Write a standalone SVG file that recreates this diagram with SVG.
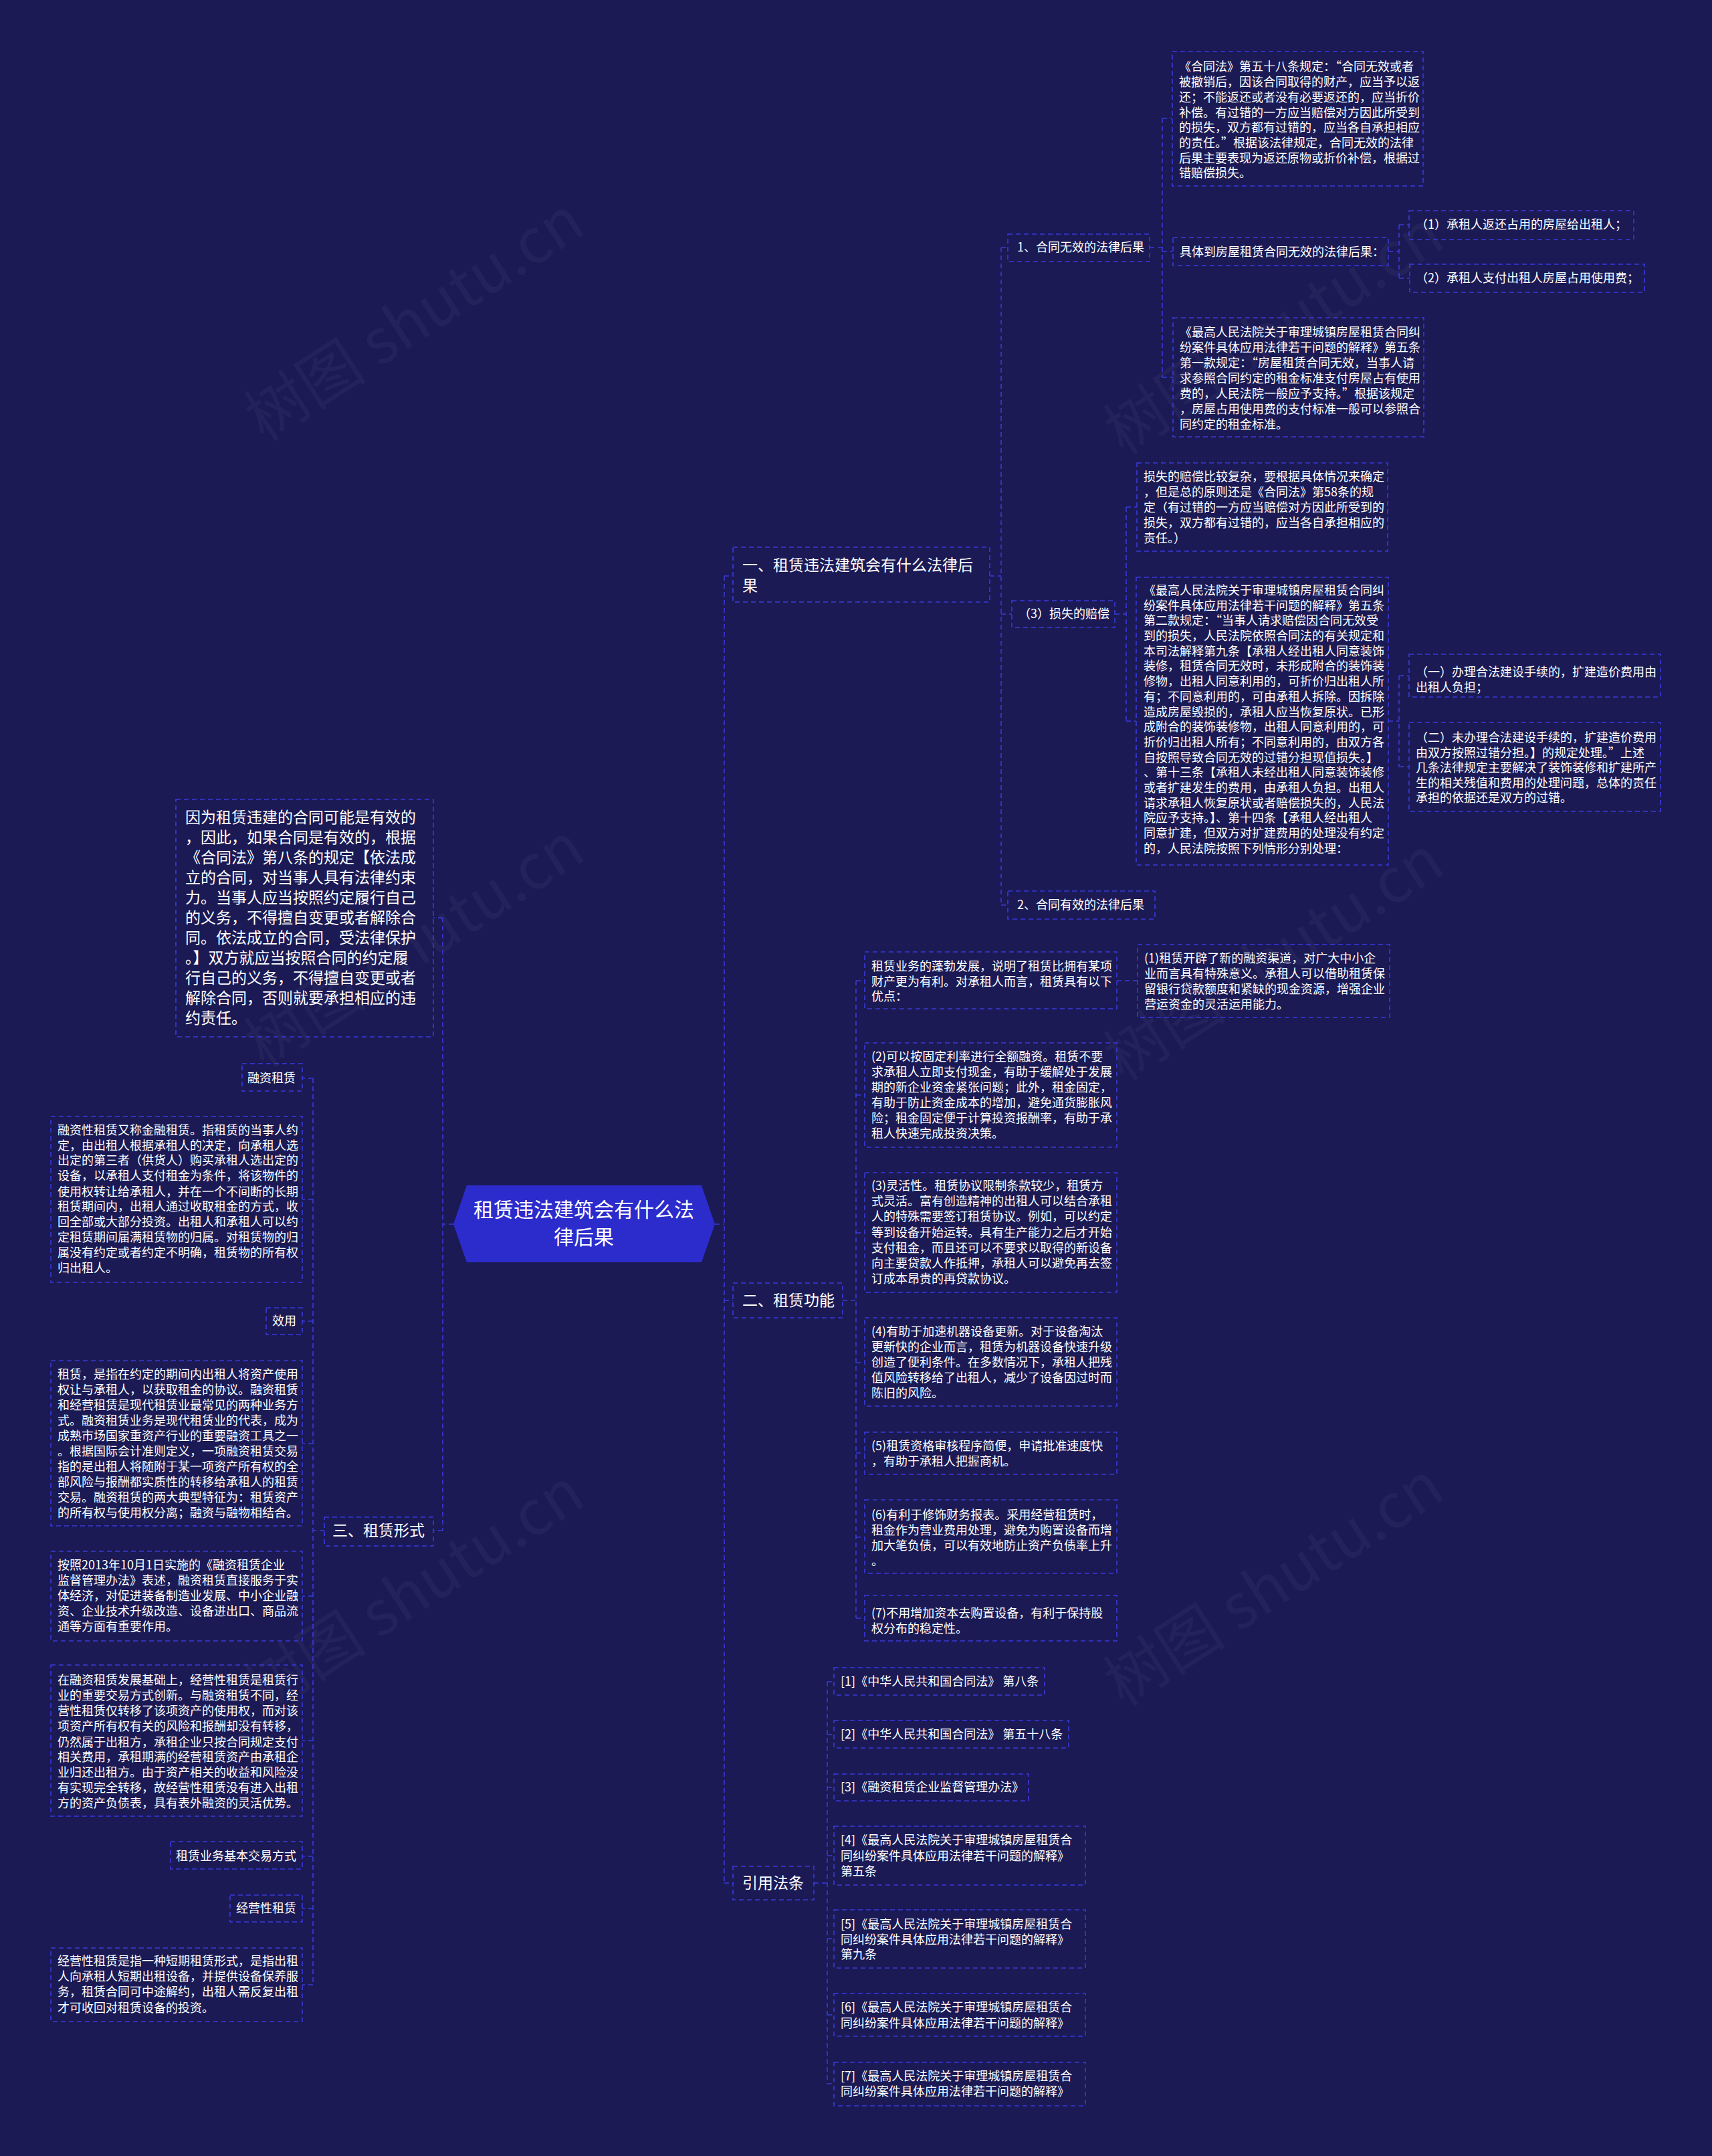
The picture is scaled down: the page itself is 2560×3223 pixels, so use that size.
<svg xmlns="http://www.w3.org/2000/svg" width="2560" height="3223" viewBox="0 0 2560 3223">
<style>
.bg{fill:#1b1a55}
.box{fill:none;stroke:#3a3ad8;stroke-width:1.6;stroke-dasharray:7 5}
.ln{fill:none;stroke:#3a3ad8;stroke-width:1.6;stroke-dasharray:7 5}
.t{font-family:"Noto Sans CJK SC","Noto Sans",sans-serif;font-size:18px;fill:#ffffff}
.t23{font-family:"Noto Sans CJK SC","Noto Sans",sans-serif;font-size:23px;fill:#ffffff}
.tc{font-family:"Noto Sans CJK SC","Noto Sans",sans-serif;font-size:30px;fill:#ffffff;text-anchor:middle}
.wm{font-family:"Noto Sans CJK SC","Noto Sans",sans-serif;font-size:92px;fill:#ffffff;fill-opacity:0.04}
.r{text-anchor:end}
</style>
<rect class="bg" x="0" y="0" width="2560" height="3223"/>
<g id="watermarks">
<text class="wm" x="637" y="504" text-anchor="middle" transform="rotate(-33 637 504)">树图 shutu.cn</text>
<text class="wm" x="1922" y="524" text-anchor="middle" transform="rotate(-33 1922 524)">树图 shutu.cn</text>
<text class="wm" x="637" y="1440" text-anchor="middle" transform="rotate(-33 637 1440)">树图 shutu.cn</text>
<text class="wm" x="1922" y="1460" text-anchor="middle" transform="rotate(-33 1922 1460)">树图 shutu.cn</text>
<text class="wm" x="637" y="2405" text-anchor="middle" transform="rotate(-33 637 2405)">树图 shutu.cn</text>
<text class="wm" x="1922" y="2395" text-anchor="middle" transform="rotate(-33 1922 2395)">树图 shutu.cn</text>
</g>
<g id="connectors">
<path class="ln" d="M1069 1830H1083M1083 861V2815M1083 861H1096M1083 1944H1096M1083 2815H1096"/>
<path class="ln" d="M678 1830H662M662 1372V2288M662 1372H648M662 2288H648"/>
<path class="ln" d="M1480 861H1497M1497 370V1353M1497 370H1507M1497 918H1513M1497 1353H1507"/>
<path class="ln" d="M1719 370H1738M1738 177V564M1738 177H1753M1738 376H1754M1738 564H1754"/>
<path class="ln" d="M2076 376H2092M2092 336V416M2092 336H2107M2092 416H2108"/>
<path class="ln" d="M1667 918H1684M1684 758V1078M1684 758H1700M1684 1078H1699"/>
<path class="ln" d="M2076 1078H2092M2092 1010V1146M2092 1010H2107M2092 1146H2107"/>
<path class="ln" d="M1260 1944H1280M1280 1466V2419M1280 1466H1293M1280 1637H1293M1280 1843H1293M1280 2037H1293M1280 2172H1293M1280 2298H1293M1280 2419H1293M1670 1466H1701"/>
<path class="ln" d="M1217 2815H1237M1237 2514V3115M1237 2514H1247M1237 2593H1247M1237 2672H1247M1237 2774H1247M1237 2898H1247M1237 3012H1247M1237 3115H1247"/>
<path class="ln" d="M485 2288H468M468 1612V2967M468 1612H452M468 1793H452M468 1975H452M468 2158H452M468 2386H452M468 2602H452M468 2775H452M468 2853H452M468 2967H452"/>
</g>
<g id="center">
<polygon points="698,1772 1049,1772 1069,1830 1049,1887 698,1887 678,1830" fill="#2c2ccc"/>
<text class="tc" x="873" y="1819">租赁违法建筑会有什么法</text>
<text class="tc" x="873" y="1860">律后果</text>
</g>
<g id="n1">
<rect class="box" x="1096" y="818" width="384" height="82"/>
<text class="t23" x="1110" y="853">一、租赁违法建筑会有什么法律后</text>
<text class="t23" x="1110" y="884">果</text>
</g>
<g id="n1-1">
<rect class="box" x="1507" y="350" width="212" height="41"/>
<text class="t" x="1521" y="376">1、合同无效的法律后果</text>
</g>
<g id="n1-1-a">
<rect class="box" x="1753" y="77" width="375" height="201"/>
<text class="t" x="1763" y="106">《合同法》第五十八条规定：“合同无效或者</text>
<text class="t" x="1763" y="129">被撤销后，因该合同取得的财产，应当予以返</text>
<text class="t" x="1763" y="152">还；不能返还或者没有必要返还的，应当折价</text>
<text class="t" x="1763" y="175">补偿。有过错的一方应当赔偿对方因此所受到</text>
<text class="t" x="1763" y="197">的损失，双方都有过错的，应当各自承担相应</text>
<text class="t" x="1763" y="220">的责任。”根据该法律规定，合同无效的法律</text>
<text class="t" x="1763" y="243">后果主要表现为返还原物或折价补偿，根据过</text>
<text class="t" x="1763" y="265">错赔偿损失。</text>
</g>
<g id="n1-1-b">
<rect class="box" x="1754" y="355" width="322" height="42"/>
<text class="t" x="1764" y="383">具体到房屋租赁合同无效的法律后果：</text>
</g>
<g id="n1-1-b-1">
<rect class="box" x="2107" y="315" width="336" height="43"/>
<text class="t" x="2117" y="342">（1）承租人返还占用的房屋给出租人；</text>
</g>
<g id="n1-1-b-2">
<rect class="box" x="2108" y="395" width="351" height="42"/>
<text class="t" x="2117" y="422">（2）承租人支付出租人房屋占用使用费；</text>
</g>
<g id="n1-1-c">
<rect class="box" x="1754" y="475" width="375" height="178"/>
<text class="t" x="1764" y="503">《最高人民法院关于审理城镇房屋租赁合同纠</text>
<text class="t" x="1764" y="526">纷案件具体应用法律若干问题的解释》第五条</text>
<text class="t" x="1764" y="549">第一款规定：“房屋租赁合同无效，当事人请</text>
<text class="t" x="1764" y="572">求参照合同约定的租金标准支付房屋占有使用</text>
<text class="t" x="1764" y="595">费的，人民法院一般应予支持。”根据该规定</text>
<text class="t" x="1764" y="618">，房屋占用使用费的支付标准一般可以参照合</text>
<text class="t" x="1764" y="641">同约定的租金标准。</text>
</g>
<g id="n1-3">
<rect class="box" x="1513" y="898" width="154" height="40"/>
<text class="t" x="1523" y="924">（3）损失的赔偿</text>
</g>
<g id="n1-3-a">
<rect class="box" x="1700" y="692" width="375" height="132"/>
<text class="t" x="1710" y="719">损失的赔偿比较复杂，要根据具体情况来确定</text>
<text class="t" x="1710" y="742">，但是总的原则还是《合同法》第58条的规</text>
<text class="t" x="1710" y="765">定（有过错的一方应当赔偿对方因此所受到的</text>
<text class="t" x="1710" y="788">损失，双方都有过错的，应当各自承担相应的</text>
<text class="t" x="1710" y="811">责任。）</text>
</g>
<g id="n1-3-b">
<rect class="box" x="1699" y="863" width="377" height="430"/>
<text class="t" x="1710" y="889">《最高人民法院关于审理城镇房屋租赁合同纠</text>
<text class="t" x="1710" y="912">纷案件具体应用法律若干问题的解释》第五条</text>
<text class="t" x="1710" y="934">第二款规定：“当事人请求赔偿因合同无效受</text>
<text class="t" x="1710" y="957">到的损失，人民法院依照合同法的有关规定和</text>
<text class="t" x="1710" y="980">本司法解释第九条【承租人经出租人同意装饰</text>
<text class="t" x="1710" y="1002">装修，租赁合同无效时，未形成附合的装饰装</text>
<text class="t" x="1710" y="1025">修物，出租人同意利用的，可折价归出租人所</text>
<text class="t" x="1710" y="1048">有；不同意利用的，可由承租人拆除。因拆除</text>
<text class="t" x="1710" y="1071">造成房屋毁损的，承租人应当恢复原状。已形</text>
<text class="t" x="1710" y="1093">成附合的装饰装修物，出租人同意利用的，可</text>
<text class="t" x="1710" y="1116">折价归出租人所有；不同意利用的，由双方各</text>
<text class="t" x="1710" y="1139">自按照导致合同无效的过错分担现值损失。】</text>
<text class="t" x="1710" y="1161">、第十三条【承租人未经出租人同意装饰装修</text>
<text class="t" x="1710" y="1184">或者扩建发生的费用，由承租人负担。出租人</text>
<text class="t" x="1710" y="1207">请求承租人恢复原状或者赔偿损失的，人民法</text>
<text class="t" x="1710" y="1229">院应予支持。】、第十四条【承租人经出租人</text>
<text class="t" x="1710" y="1252">同意扩建，但双方对扩建费用的处理没有约定</text>
<text class="t" x="1710" y="1275">的，人民法院按照下列情形分别处理：</text>
</g>
<g id="n1-3-b-1">
<rect class="box" x="2107" y="978" width="376" height="64"/>
<text class="t" x="2117" y="1011">（一）办理合法建设手续的，扩建造价费用由</text>
<text class="t" x="2117" y="1034">出租人负担；</text>
</g>
<g id="n1-3-b-2">
<rect class="box" x="2107" y="1080" width="376" height="133"/>
<text class="t" x="2117" y="1109">（二）未办理合法建设手续的，扩建造价费用</text>
<text class="t" x="2117" y="1132">由双方按照过错分担。】的规定处理。”上述</text>
<text class="t" x="2117" y="1154">几条法律规定主要解决了装饰装修和扩建所产</text>
<text class="t" x="2117" y="1177">生的相关残值和费用的处理问题，总体的责任</text>
<text class="t" x="2117" y="1199">承担的依据还是双方的过错。</text>
</g>
<g id="n1-2">
<rect class="box" x="1507" y="1332" width="220" height="42"/>
<text class="t" x="1521" y="1359">2、合同有效的法律后果</text>
</g>
<g id="n2">
<rect class="box" x="1096" y="1918" width="164" height="52"/>
<text class="t23" x="1110" y="1952">二、租赁功能</text>
</g>
<g id="n2-0">
<rect class="box" x="1293" y="1423" width="377" height="85"/>
<text class="t" x="1303" y="1451">租赁业务的蓬勃发展，说明了租赁比拥有某项</text>
<text class="t" x="1303" y="1474">财产更为有利。对承租人而言，租赁具有以下</text>
<text class="t" x="1303" y="1496">优点：</text>
</g>
<g id="n2-1">
<rect class="box" x="1701" y="1412" width="377" height="109"/>
<text class="t" x="1711" y="1439">(1)租赁开辟了新的融资渠道，对广大中小企</text>
<text class="t" x="1711" y="1462">业而言具有特殊意义。承租人可以借助租赁保</text>
<text class="t" x="1711" y="1485">留银行贷款额度和紧缺的现金资源，增强企业</text>
<text class="t" x="1711" y="1508">营运资金的灵活运用能力。</text>
</g>
<g id="n2-2">
<rect class="box" x="1293" y="1559" width="377" height="156"/>
<text class="t" x="1303" y="1586">(2)可以按固定利率进行全额融资。租赁不要</text>
<text class="t" x="1303" y="1609">求承租人立即支付现金，有助于缓解处于发展</text>
<text class="t" x="1303" y="1632">期的新企业资金紧张问题；此外，租金固定，</text>
<text class="t" x="1303" y="1655">有助于防止资金成本的增加，避免通货膨胀风</text>
<text class="t" x="1303" y="1678">险；租金固定便于计算投资报酬率，有助于承</text>
<text class="t" x="1303" y="1701">租人快速完成投资决策。</text>
</g>
<g id="n2-3">
<rect class="box" x="1293" y="1753" width="377" height="179"/>
<text class="t" x="1303" y="1779">(3)灵活性。租赁协议限制条款较少，租赁方</text>
<text class="t" x="1303" y="1802">式灵活。富有创造精神的出租人可以结合承租</text>
<text class="t" x="1303" y="1825">人的特殊需要签订租赁协议。例如，可以约定</text>
<text class="t" x="1303" y="1849">等到设备开始运转。具有生产能力之后才开始</text>
<text class="t" x="1303" y="1872">支付租金，而且还可以不要求以取得的新设备</text>
<text class="t" x="1303" y="1895">向主要贷款人作抵押，承租人可以避免再去签</text>
<text class="t" x="1303" y="1918">订成本昂贵的再贷款协议。</text>
</g>
<g id="n2-4">
<rect class="box" x="1293" y="1970" width="377" height="132"/>
<text class="t" x="1303" y="1997">(4)有助于加速机器设备更新。对于设备淘汰</text>
<text class="t" x="1303" y="2020">更新快的企业而言，租赁为机器设备快速升级</text>
<text class="t" x="1303" y="2043">创造了便利条件。在多数情况下，承租人把残</text>
<text class="t" x="1303" y="2066">值风险转移给了出租人，减少了设备因过时而</text>
<text class="t" x="1303" y="2089">陈旧的风险。</text>
</g>
<g id="n2-5">
<rect class="box" x="1293" y="2141" width="377" height="63"/>
<text class="t" x="1303" y="2168">(5)租赁资格审核程序简便，申请批准速度快</text>
<text class="t" x="1303" y="2191">，有助于承租人把握商机。</text>
</g>
<g id="n2-6">
<rect class="box" x="1293" y="2242" width="377" height="110"/>
<text class="t" x="1303" y="2271">(6)有利于修饰财务报表。采用经营租赁时，</text>
<text class="t" x="1303" y="2294">租金作为营业费用处理，避免为购置设备而增</text>
<text class="t" x="1303" y="2317">加大笔负债，可以有效地防止资产负债率上升</text>
<text class="t" x="1303" y="2340">。</text>
</g>
<g id="n2-7">
<rect class="box" x="1293" y="2385" width="377" height="68"/>
<text class="t" x="1303" y="2418">(7)不用增加资本去购置设备，有利于保持股</text>
<text class="t" x="1303" y="2441">权分布的稳定性。</text>
</g>
<g id="n4">
<rect class="box" x="1096" y="2790" width="121" height="50"/>
<text class="t23" x="1110" y="2823">引用法条</text>
</g>
<g id="ref1">
<rect class="box" x="1247" y="2493" width="315" height="41"/>
<text class="t" x="1257" y="2520">[1]《中华人民共和国合同法》 第八条</text>
</g>
<g id="ref2">
<rect class="box" x="1247" y="2572" width="351" height="41"/>
<text class="t" x="1257" y="2599">[2]《中华人民共和国合同法》 第五十八条</text>
</g>
<g id="ref3">
<rect class="box" x="1247" y="2652" width="291" height="40"/>
<text class="t" x="1257" y="2678">[3]《融资租赁企业监督管理办法》</text>
</g>
<g id="ref4">
<rect class="box" x="1247" y="2730" width="376" height="88"/>
<text class="t" x="1257" y="2757">[4]《最高人民法院关于审理城镇房屋租赁合</text>
<text class="t" x="1257" y="2781">同纠纷案件具体应用法律若干问题的解释》</text>
<text class="t" x="1257" y="2804">第五条</text>
</g>
<g id="ref5">
<rect class="box" x="1247" y="2855" width="376" height="87"/>
<text class="t" x="1257" y="2883">[5]《最高人民法院关于审理城镇房屋租赁合</text>
<text class="t" x="1257" y="2906">同纠纷案件具体应用法律若干问题的解释》</text>
<text class="t" x="1257" y="2928">第九条</text>
</g>
<g id="ref6">
<rect class="box" x="1247" y="2980" width="376" height="64"/>
<text class="t" x="1257" y="3007">[6]《最高人民法院关于审理城镇房屋租赁合</text>
<text class="t" x="1257" y="3031">同纠纷案件具体应用法律若干问题的解释》</text>
</g>
<g id="ref7">
<rect class="box" x="1247" y="3083" width="376" height="65"/>
<text class="t" x="1257" y="3110">[7]《最高人民法院关于审理城镇房屋租赁合</text>
<text class="t" x="1257" y="3133">同纠纷案件具体应用法律若干问题的解释》</text>
</g>
<g id="nL">
<rect class="box" x="263" y="1195" width="385" height="355"/>
<text class="t23" x="277" y="1230">因为租赁违建的合同可能是有效的</text>
<text class="t23" x="277" y="1260">，因此，如果合同是有效的，根据</text>
<text class="t23" x="277" y="1290">《合同法》第八条的规定【依法成</text>
<text class="t23" x="277" y="1320">立的合同，对当事人具有法律约束</text>
<text class="t23" x="277" y="1350">力。当事人应当按照约定履行自己</text>
<text class="t23" x="277" y="1380">的义务，不得擅自变更或者解除合</text>
<text class="t23" x="277" y="1410">同。依法成立的合同，受法律保护</text>
<text class="t23" x="277" y="1440">。】双方就应当按照合同的约定履</text>
<text class="t23" x="277" y="1470">行自己的义务，不得擅自变更或者</text>
<text class="t23" x="277" y="1500">解除合同，否则就要承担相应的违</text>
<text class="t23" x="277" y="1530">约责任。</text>
</g>
<g id="n3">
<rect class="box" x="485" y="2268" width="163" height="43"/>
<text class="t23" x="497" y="2296">三、租赁形式</text>
</g>
<g id="n3-1">
<rect class="box" x="362" y="1590" width="90" height="41"/>
<text class="t r" x="442" y="1618">融资租赁</text>
</g>
<g id="n3-1-a">
<rect class="box" x="76" y="1669" width="376" height="248"/>
<text class="t" x="86" y="1696">融资性租赁又称金融租赁。指租赁的当事人约</text>
<text class="t" x="86" y="1719">定，由出租人根据承租人的决定，向承租人选</text>
<text class="t" x="86" y="1741">出定的第三者（供货人）购买承租人选出定的</text>
<text class="t" x="86" y="1764">设备，以承租人支付租金为条件，将该物件的</text>
<text class="t" x="86" y="1788">使用权转让给承租人，并在一个不间断的长期</text>
<text class="t" x="86" y="1810">租赁期间内，出租人通过收取租金的方式，收</text>
<text class="t" x="86" y="1833">回全部或大部分投资。出租人和承租人可以约</text>
<text class="t" x="86" y="1856">定租赁期间届满租赁物的归属。对租赁物的归</text>
<text class="t" x="86" y="1879">属没有约定或者约定不明确，租赁物的所有权</text>
<text class="t" x="86" y="1902">归出租人。</text>
</g>
<g id="n3-2">
<rect class="box" x="398" y="1955" width="54" height="40"/>
<text class="t r" x="443" y="1981">效用</text>
</g>
<g id="n3-2-a">
<rect class="box" x="76" y="2034" width="376" height="247"/>
<text class="t" x="86" y="2061">租赁，是指在约定的期间内出租人将资产使用</text>
<text class="t" x="86" y="2084">权让与承租人，以获取租金的协议。融资租赁</text>
<text class="t" x="86" y="2107">和经营租赁是现代租赁业最常见的两种业务方</text>
<text class="t" x="86" y="2130">式。融资租赁业务是现代租赁业的代表，成为</text>
<text class="t" x="86" y="2153">成熟市场国家重资产行业的重要融资工具之一</text>
<text class="t" x="86" y="2176">。根据国际会计准则定义，一项融资租赁交易</text>
<text class="t" x="86" y="2199">指的是出租人将随附于某一项资产所有权的全</text>
<text class="t" x="86" y="2222">部风险与报酬都实质性的转移给承租人的租赁</text>
<text class="t" x="86" y="2245">交易。融资租赁的两大典型特征为：租赁资产</text>
<text class="t" x="86" y="2268">的所有权与使用权分离；融资与融物相结合。</text>
</g>
<g id="n3-2-b">
<rect class="box" x="76" y="2319" width="376" height="134"/>
<text class="t" x="86" y="2346">按照2013年10月1日实施的《融资租赁企业</text>
<text class="t" x="86" y="2369">监督管理办法》表述，融资租赁直接服务于实</text>
<text class="t" x="86" y="2392">体经济，对促进装备制造业发展、中小企业融</text>
<text class="t" x="86" y="2415">资、企业技术升级改造、设备进出口、商品流</text>
<text class="t" x="86" y="2438">通等方面有重要作用。</text>
</g>
<g id="n3-2-c">
<rect class="box" x="76" y="2489" width="376" height="226"/>
<text class="t" x="86" y="2518">在融资租赁发展基础上，经营性租赁是租赁行</text>
<text class="t" x="86" y="2541">业的重要交易方式创新。与融资租赁不同，经</text>
<text class="t" x="86" y="2564">营性租赁仅转移了该项资产的使用权，而对该</text>
<text class="t" x="86" y="2587">项资产所有权有关的风险和报酬却没有转移，</text>
<text class="t" x="86" y="2611">仍然属于出租方，承租企业只按合同规定支付</text>
<text class="t" x="86" y="2633">相关费用，承租期满的经营租赁资产由承租企</text>
<text class="t" x="86" y="2656">业归还出租方。由于资产相关的收益和风险没</text>
<text class="t" x="86" y="2679">有实现完全转移，故经营性租赁没有进入出租</text>
<text class="t" x="86" y="2702">方的资产负债表，具有表外融资的灵活优势。</text>
</g>
<g id="n3-3">
<rect class="box" x="255" y="2753" width="197" height="41"/>
<text class="t r" x="443" y="2781">租赁业务基本交易方式</text>
</g>
<g id="n3-4">
<rect class="box" x="344" y="2833" width="108" height="40"/>
<text class="t r" x="443" y="2859">经营性租赁</text>
</g>
<g id="n3-4-a">
<rect class="box" x="76" y="2912" width="376" height="110"/>
<text class="t" x="86" y="2938">经营性租赁是指一种短期租赁形式，是指出租</text>
<text class="t" x="86" y="2961">人向承租人短期出租设备，并提供设备保养服</text>
<text class="t" x="86" y="2984">务，租赁合同可中途解约，出租人需反复出租</text>
<text class="t" x="86" y="3008">才可收回对租赁设备的投资。</text>
</g>
</svg>
